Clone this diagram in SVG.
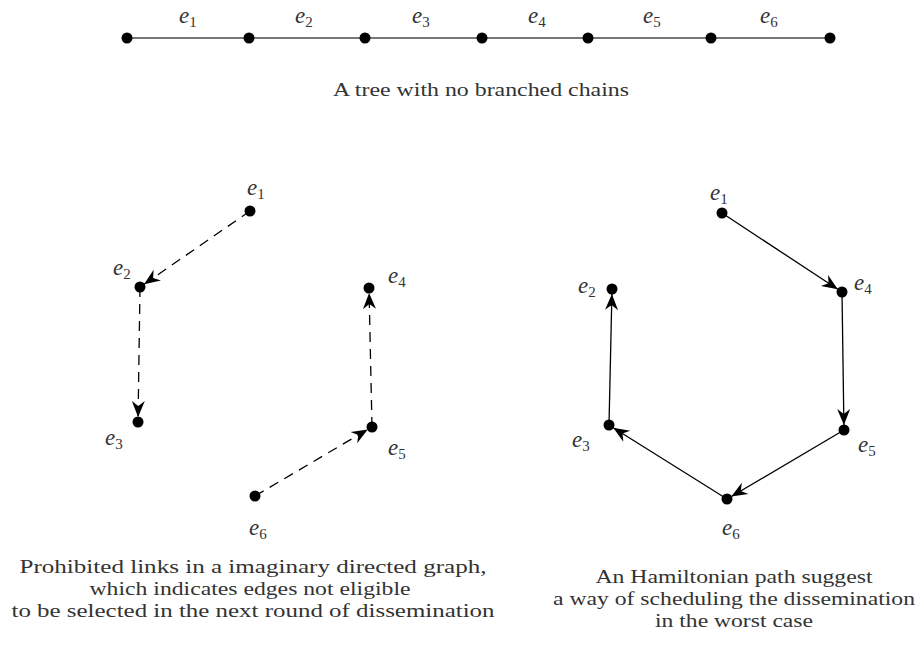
<svg xmlns="http://www.w3.org/2000/svg" width="919" height="661" viewBox="0 0 919 661">
<defs>
<style>
.node{fill:#000}
.lbl{font-family:"Liberation Serif","DejaVu Serif",serif;font-style:italic;font-size:23px;fill:#333}
.sub{font-style:normal;font-size:15px}
.cap{font-family:"Liberation Serif","DejaVu Serif",serif;font-size:19px;fill:#333;text-anchor:middle}
.dash{stroke:#000;stroke-width:1.3;stroke-dasharray:10 7;fill:none}
.solid{stroke:#000;stroke-width:1.3;fill:none}
</style>
<marker id="arr" markerUnits="userSpaceOnUse" markerWidth="20" markerHeight="16" viewBox="-17 -8 18 16" refX="0" refY="0" orient="auto">
<path d="M0,0 L-16,-6.5 L-11,0 L-16,6.5 Z" fill="#000"/>
</marker>
</defs>
<rect width="919" height="661" fill="#fff"/>

<g id="connectors">
<line x1="127" y1="38" x2="830" y2="38" stroke="#777" stroke-width="2"/>
<line class="dash" x1="250" y1="211" x2="144.1" y2="284.2" marker-end="url(#arr)"/>
<line class="dash" x1="140" y1="287" x2="138.1" y2="417" marker-end="url(#arr)"/>
<line class="dash" x1="255" y1="496" x2="367.7" y2="429.5" marker-end="url(#arr)"/>
<line class="dash" x1="372" y1="427" x2="369.1" y2="293" marker-end="url(#arr)"/>
<line class="solid" x1="722" y1="213" x2="837.8" y2="289.3" marker-end="url(#arr)"/>
<line class="solid" x1="842" y1="292" x2="843.9" y2="425" marker-end="url(#arr)"/>
<line class="solid" x1="844" y1="430" x2="731.3" y2="496.5" marker-end="url(#arr)"/>
<line class="solid" x1="727" y1="499" x2="613.2" y2="427.7" marker-end="url(#arr)"/>
<line class="solid" x1="609" y1="425" x2="611.9" y2="294" marker-end="url(#arr)"/>
</g>

<g id="chain">
<circle class="node" cx="127" cy="38" r="5.5"/>
<circle class="node" cx="249" cy="38" r="5.5"/>
<circle class="node" cx="365" cy="38" r="5.5"/>
<circle class="node" cx="482" cy="38" r="5.5"/>
<circle class="node" cx="588" cy="38" r="5.5"/>
<circle class="node" cx="711" cy="38" r="5.5"/>
<circle class="node" cx="830" cy="38" r="5.5"/>
<text class="lbl" x="179" y="23">e<tspan class="sub" dy="4">1</tspan></text>
<text class="lbl" x="295" y="23">e<tspan class="sub" dy="4">2</tspan></text>
<text class="lbl" x="412" y="23">e<tspan class="sub" dy="4">3</tspan></text>
<text class="lbl" x="528" y="23">e<tspan class="sub" dy="4">4</tspan></text>
<text class="lbl" x="643" y="23">e<tspan class="sub" dy="4">5</tspan></text>
<text class="lbl" x="760" y="23">e<tspan class="sub" dy="4">6</tspan></text>
</g>

<g id="left-e1"><circle class="node" cx="250" cy="211" r="5.5"/><text class="lbl" x="247" y="195">e<tspan class="sub" dy="4">1</tspan></text></g>
<g id="left-e2"><circle class="node" cx="140" cy="287" r="5.5"/><text class="lbl" x="113" y="275">e<tspan class="sub" dy="4">2</tspan></text></g>
<g id="left-e3"><circle class="node" cx="138" cy="422" r="5.5"/><text class="lbl" x="105" y="445">e<tspan class="sub" dy="4">3</tspan></text></g>
<g id="left-e4"><circle class="node" cx="369" cy="288" r="5.5"/><text class="lbl" x="388" y="283">e<tspan class="sub" dy="4">4</tspan></text></g>
<g id="left-e5"><circle class="node" cx="372" cy="427" r="5.5"/><text class="lbl" x="388" y="455">e<tspan class="sub" dy="4">5</tspan></text></g>
<g id="left-e6"><circle class="node" cx="255" cy="496" r="5.5"/><text class="lbl" x="249" y="535">e<tspan class="sub" dy="4">6</tspan></text></g>

<g id="right-e1"><circle class="node" cx="722" cy="213" r="5.5"/><text class="lbl" x="710" y="200">e<tspan class="sub" dy="4">1</tspan></text></g>
<g id="right-e2"><circle class="node" cx="612" cy="289" r="5.5"/><text class="lbl" x="578" y="293">e<tspan class="sub" dy="4">2</tspan></text></g>
<g id="right-e3"><circle class="node" cx="609" cy="425" r="5.5"/><text class="lbl" x="572" y="447">e<tspan class="sub" dy="4">3</tspan></text></g>
<g id="right-e4"><circle class="node" cx="842" cy="292" r="5.5"/><text class="lbl" x="854" y="290">e<tspan class="sub" dy="4">4</tspan></text></g>
<g id="right-e5"><circle class="node" cx="844" cy="430" r="5.5"/><text class="lbl" x="858" y="452">e<tspan class="sub" dy="4">5</tspan></text></g>
<g id="right-e6"><circle class="node" cx="727" cy="499" r="5.5"/><text class="lbl" x="722" y="535">e<tspan class="sub" dy="4">6</tspan></text></g>

<g id="captions">
<text class="cap" x="481" y="96" textLength="296" lengthAdjust="spacingAndGlyphs">A tree with no branched chains</text>
<text class="cap" x="253" y="573" textLength="467" lengthAdjust="spacingAndGlyphs">Prohibited links in a imaginary directed graph,</text>
<text class="cap" x="250" y="595" textLength="321" lengthAdjust="spacingAndGlyphs">which indicates edges not eligible</text>
<text class="cap" x="253" y="617" textLength="483" lengthAdjust="spacingAndGlyphs">to be selected in the next round of dissemination</text>
<text class="cap" x="734" y="583" textLength="277" lengthAdjust="spacingAndGlyphs">An Hamiltonian path suggest</text>
<text class="cap" x="734" y="605" textLength="362" lengthAdjust="spacingAndGlyphs">a way of scheduling the dissemination</text>
<text class="cap" x="734" y="627" textLength="158" lengthAdjust="spacingAndGlyphs">in the worst case</text>
</g>
</svg>
